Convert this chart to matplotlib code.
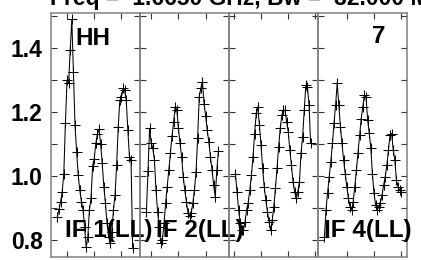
import matplotlib

matplotlib.use("Agg")

import matplotlib.pyplot as plt
import numpy as np

plt.rcParams["font.family"] = ["Liberation Sans", "DejaVu Sans"]
plt.rcParams["font.weight"] = "bold"

# amplitude per channel, one list per IF
IF1_AMP = [
    0.873, 0.896, 0.92, 0.951, 1.008, 1.165, 1.30, 1.29, 1.394, 1.49,
    1.326, 1.16, 1.076, 1.003, 0.956, 0.92, 0.894, 0.84, 0.777, 0.81,
    0.894, 0.93, 1.031, 1.055, 1.102, 1.133, 1.147, 1.10, 1.04, 0.967,
    0.915, 0.853, 0.81, 0.79, 0.826, 0.894, 0.94, 1.034, 1.154, 1.237,
    1.246, 1.274, 1.269, 1.237, 1.144, 1.06, 1.05, 0.774,
]
IF2_AMP = [
    0.889, 1.016, 1.149, 1.104, 1.087, 1.05, 0.956, 0.889, 0.84, 0.79,
    0.80, 0.853, 0.915, 0.967, 1.019, 1.072, 1.125, 1.17, 1.217, 1.206,
    1.15, 1.103, 1.06, 0.998, 0.956, 0.92, 0.884, 0.876, 0.884, 0.915,
    0.956, 1.013, 1.118, 1.248, 1.274, 1.295, 1.227, 1.188, 1.144, 1.107,
    1.06, 1.019, 0.972, 0.935, 1.019, 1.08,
]
IF3_AMP = [
    1.008, 0.951, 0.894, 0.852, 0.831, 0.831, 0.857, 0.894, 0.917, 0.956,
    1.003, 1.06, 1.133, 1.196, 1.217, 1.159, 1.097, 1.024, 0.967, 0.925,
    0.889, 0.857, 0.831, 0.862, 0.904, 0.962, 1.024, 1.092, 1.149, 1.19,
    1.206, 1.206, 1.17, 1.139, 1.081, 1.034, 0.982, 0.951, 0.93, 0.951,
    0.982, 1.071, 1.123, 1.206, 1.284, 1.279, 1.222, 1.102,
]
IF4_AMP = [
    0.81, 0.894, 0.948, 0.998, 1.045, 1.102, 1.165, 1.222, 1.292, 1.222,
    1.154, 1.102, 1.05, 1.008, 0.967, 0.93, 0.904, 0.894, 0.92, 0.967,
    1.019, 1.073, 1.128, 1.18, 1.217, 1.253, 1.248, 1.175, 1.135, 1.087,
    1.005, 0.946, 0.909, 0.894, 0.904, 0.917, 0.94, 0.972, 0.998, 1.034,
    1.081, 1.128, 1.133, 1.081, 1.05, 0.987, 0.967, 0.956, 0.951,
]
PANEL_AMPS = [IF1_AMP, IF2_AMP, IF3_AMP, IF4_AMP]
PANEL_LABELS = ["IF 1(LL)", "IF 2(LL)", "", "IF 4(LL)"]
CHANNEL_TICKS = [[7, 24, 41], [4, 21, 38], [0, 17, 34, 51], [15, 32, 49]]
Y_TICKS = [0.8, 0.9, 1.0, 1.1, 1.2, 1.3, 1.4, 1.5]
Y_TICK_LABELS = ["0.8", "", "1.0", "", "1.2", "", "1.4", ""]

TITLE = "Freq =  1.6650 GHz, Bw =  32.000 MHz"
SOURCE = "HH"
PLOT_NUMBER = "7"

FRAME_COLOR = "#808080"
LABEL_LEFT = [0.16, 0.18, 0.0, 0.065]
TEXT_SIZE = 17.5


def style_panel(axis, ticks):
    axis.set_xlim(-3, 52.6)
    axis.set_ylim(0.747, 1.510)
    axis.set_xticks(ticks)
    axis.set_xticklabels([])
    axis.set_yticks(Y_TICKS)
    axis.patch.set_visible(False)
    for spine in axis.spines.values():
        spine.set_color(FRAME_COLOR)
        spine.set_linewidth(1.1)
    axis.tick_params(
        direction="in",
        top=True,
        right=True,
        length=4,
        width=0.8,
        color="#333333",
        labelsize=16.5,
        pad=6,
    )


figure, axes = plt.subplots(1, 4, sharey=True, figsize=(4.21, 2.60), dpi=100)
figure.subplots_adjust(
    left=51 / 421, right=407 / 421, top=1 - 13 / 260, bottom=1 - 257 / 260, wspace=0
)

for index, axis in enumerate(axes):
    amps = PANEL_AMPS[index]
    channels = np.arange(1, len(amps) + 1)
    axis.plot(
        channels,
        amps,
        color="black",
        linewidth=0.75,
        marker="+",
        markersize=6.5,
        markeredgewidth=0.75,
    )
    style_panel(axis, CHANNEL_TICKS[index])
    if PANEL_LABELS[index]:
        axis.text(
            LABEL_LEFT[index],
            0.083,
            PANEL_LABELS[index],
            transform=axis.transAxes,
            ha="left",
            va="baseline",
            fontsize=TEXT_SIZE,
            fontweight="bold",
            clip_on=False,
            zorder=5,
        )

axes[0].set_yticklabels(Y_TICK_LABELS)
for label in axes[0].get_yticklabels():
    label.set_fontweight("bold")

axes[0].text(
    0.27, 0.869, SOURCE, transform=axes[0].transAxes,
    ha="left", va="baseline", fontsize=TEXT_SIZE, fontweight="bold",
)
axes[3].text(
    0.755, 0.877, PLOT_NUMBER, transform=axes[3].transAxes,
    ha="right", va="baseline", fontsize=TEXT_SIZE, fontweight="bold",
)

# title sits mostly above the top edge, like the original
figure.text(
    50 / 421, 1 - 5.5 / 260, TITLE,
    ha="left", va="baseline", fontsize=16.5, fontweight="bold",
)

figure.savefig("out.png", dpi=100)
plt.close(figure)
